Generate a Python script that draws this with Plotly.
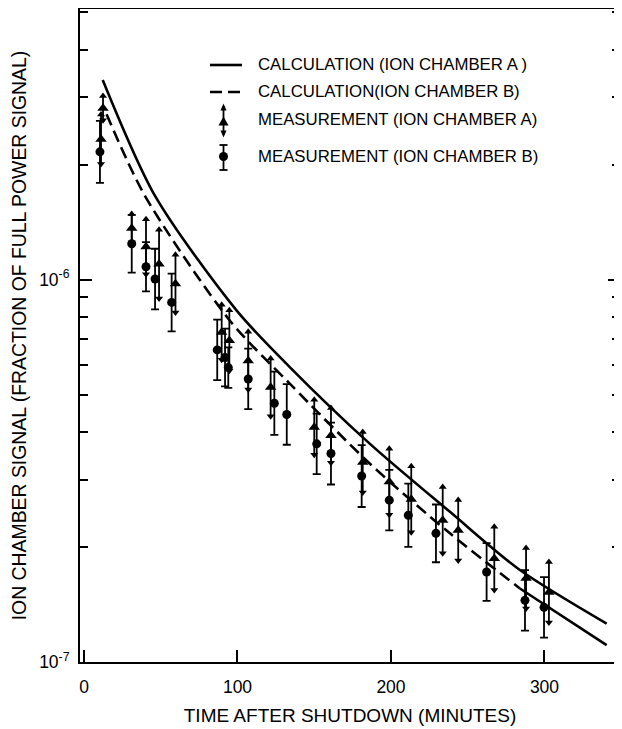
import plotly.graph_objects as go

# ---------------- data ----------------
calc_a_time = [12.2, 46.3, 99.5, 134.2, 186.3, 238.4, 284.0, 340.5]
calc_a_signal = [3.33e-6, 1.656e-6, 8.30e-7, 5.90e-7, 3.72e-7, 2.47e-7, 1.74e-7, 1.26e-7]

calc_b_time = [14.7, 39.7, 95.1, 134.2, 186.3, 238.4, 284.0, 340.5]
calc_b_signal = [2.71e-6, 1.657e-6, 7.81e-7, 5.34e-7, 3.30e-7, 2.17e-7, 1.557e-7, 1.107e-7]

meas_a_time = [12.4, 11.1, 31.1, 40.4, 48.9, 59.6, 89.7, 94.7, 107.0, 121.6,
               150.0, 160.9, 181.6, 198.9, 213.2, 233.7, 243.8, 267.3, 288.0, 302.9]
meas_a_signal = [2.81e-6, 2.33e-6, 1.363e-6, 1.22e-6, 1.099e-6, 9.76e-7, 7.29e-7, 6.93e-7, 6.14e-7, 5.23e-7,
                 4.11e-7, 3.915e-7, 3.33e-7, 2.96e-7, 2.665e-7, 2.35e-7, 2.21e-7, 1.866e-7, 1.657e-7, 1.523e-7]
meas_a_err = [0.075, 0.16, 0.09, 0.18, 0.23, 0.19, 0.18, 0.20, 0.19, 0.19,
              0.18, 0.18, 0.20, 0.22, 0.22, 0.22, 0.20, 0.21, 0.20, 0.20]

meas_b_time = [10.4, 31.1, 40.4, 46.3, 57.1, 86.8, 91.9, 94.0, 107.0, 124.0,
               132.1, 151.6, 160.9, 180.9, 198.9, 211.3, 229.3, 262.3, 287.3, 299.7]
meas_b_signal = [2.16e-6, 1.242e-6, 1.081e-6, 1.004e-6, 8.72e-7, 6.55e-7, 6.26e-7, 5.89e-7, 5.50e-7, 4.75e-7,
                 4.44e-7, 3.72e-7, 3.51e-7, 3.065e-7, 2.65e-7, 2.42e-7, 2.17e-7, 1.72e-7, 1.45e-7, 1.39e-7]
meas_b_err = [0.205, 0.19, 0.16, 0.20, 0.19, 0.20, 0.19, 0.13, 0.20, 0.21,
              0.20, 0.20, 0.205, 0.205, 0.20, 0.21, 0.19, 0.19, 0.20, 0.20]

x_tick_vals = [0, 100, 200, 300]
y_major_vals = [1e-7, 1e-6]
y_major_text = ["10<sup>-7</sup>", "10<sup>-6</sup>"]
y_minor_vals = [2e-7, 3e-7, 4e-7, 5e-7, 6e-7, 7e-7, 8e-7, 9e-7, 2e-6, 3e-6, 4e-6, 5e-6]

legend_labels = ["CALCULATION (ION CHAMBER A )", "CALCULATION(ION CHAMBER B)",
                 "MEASUREMENT (ION CHAMBER A)", "MEASUREMENT (ION CHAMBER B)"]

# ---------------- figure ----------------
OFF = 8                      # default page margin of the html body
W, H = 622 - OFF, 729 - OFF
ML, MR, MT, MB = 72, 2, 1, 67
PW, PH = W - ML - MR, H - MT - MB
FONT = "Liberation Sans, Arial, Helvetica, sans-serif"
BLACK = "black"
B_DASH_END = 284.0  # dashes give way to a continuous stroke near the end, as in the original

fig = go.Figure()

# calculation curves
fig.add_trace(go.Scatter(x=calc_a_time, y=calc_a_signal, mode="lines",
                         line=dict(color=BLACK, width=2.6, shape="spline", smoothing=0.8),
                         hoverinfo="skip"))
b_dash_x = [t for t in calc_b_time if t <= B_DASH_END]
b_dash_y = [v for t, v in zip(calc_b_time, calc_b_signal) if t <= B_DASH_END]
b_sol_x = [t for t in calc_b_time if t >= B_DASH_END]
b_sol_y = [v for t, v in zip(calc_b_time, calc_b_signal) if t >= B_DASH_END]
fig.add_trace(go.Scatter(x=b_dash_x, y=b_dash_y, mode="lines",
                         line=dict(color=BLACK, width=2.6, dash="12px,6px", shape="spline", smoothing=0.8),
                         hoverinfo="skip"))
fig.add_trace(go.Scatter(x=b_sol_x, y=b_sol_y, mode="lines",
                         line=dict(color=BLACK, width=2.6), hoverinfo="skip"))

# measurement A : triangles with arrow-headed error bars
a_up = [v * e for v, e in zip(meas_a_signal, meas_a_err)]
a_dn = [v * e / (1 + e) for v, e in zip(meas_a_signal, meas_a_err)]
fig.add_trace(go.Scatter(x=meas_a_time, y=meas_a_signal, mode="markers",
                         marker=dict(symbol="triangle-up", size=10, color=BLACK),
                         error_y=dict(type="data", array=a_up, arrayminus=a_dn, symmetric=False,
                                      color=BLACK, thickness=1.8, width=0)))
fig.add_trace(go.Scatter(x=meas_a_time, y=[v * (1 + e) for v, e in zip(meas_a_signal, meas_a_err)],
                         mode="markers", marker=dict(symbol="triangle-up", size=7, color=BLACK)))
fig.add_trace(go.Scatter(x=meas_a_time, y=[v / (1 + e) for v, e in zip(meas_a_signal, meas_a_err)],
                         mode="markers", marker=dict(symbol="triangle-down", size=7, color=BLACK)))

# measurement B : circles with capped error bars
b_up = [v * e for v, e in zip(meas_b_signal, meas_b_err)]
b_dn = [v * e / (1 + e) for v, e in zip(meas_b_signal, meas_b_err)]
fig.add_trace(go.Scatter(x=meas_b_time, y=meas_b_signal, mode="markers",
                         marker=dict(symbol="circle", size=9, color=BLACK),
                         error_y=dict(type="data", array=b_up, arrayminus=b_dn, symmetric=False,
                                      color=BLACK, thickness=1.8, width=4)))


# ---------------- hand-drawn legend (paper coords, given in page pixels) ----------------
def px(xp):
    return (xp - OFF - ML) / PW


def py(yp):
    return (OFF + MT + PH - yp) / PH


shapes = []
annotations = []
shapes.append(dict(type="line", xref="paper", yref="paper", x0=px(210), x1=px(242), y0=py(65), y1=py(65),
                   line=dict(color=BLACK, width=2.6)))
shapes.append(dict(type="line", xref="paper", yref="paper", x0=px(210), x1=px(243), y0=py(92), y1=py(92),
                   line=dict(color=BLACK, width=2.6, dash="12px,6px")))


def tri(cx, cy, w, h, up=True):
    if up:
        return (f"M {px(cx - w / 2)} {py(cy + h / 2)} L {px(cx + w / 2)} {py(cy + h / 2)} "
                f"L {px(cx)} {py(cy - h / 2)} Z")
    return (f"M {px(cx - w / 2)} {py(cy - h / 2)} L {px(cx + w / 2)} {py(cy - h / 2)} "
            f"L {px(cx)} {py(cy + h / 2)} Z")


# legend A symbol
shapes.append(dict(type="line", xref="paper", yref="paper", x0=px(223.5), x1=px(223.5), y0=py(106), y1=py(135),
                   line=dict(color=BLACK, width=1.8)))
shapes.append(dict(type="path", xref="paper", yref="paper", path=tri(223.5, 121, 10, 9),
                   fillcolor=BLACK, line=dict(color=BLACK, width=0)))
shapes.append(dict(type="path", xref="paper", yref="paper", path=tri(223.5, 107, 6, 7, True),
                   fillcolor=BLACK, line=dict(color=BLACK, width=0)))
shapes.append(dict(type="path", xref="paper", yref="paper", path=tri(223.5, 134, 6, 7, False),
                   fillcolor=BLACK, line=dict(color=BLACK, width=0)))
# legend B symbol
shapes.append(dict(type="line", xref="paper", yref="paper", x0=px(223.5), x1=px(223.5), y0=py(145), y1=py(170),
                   line=dict(color=BLACK, width=1.8)))
for yy in (145, 170):
    shapes.append(dict(type="line", xref="paper", yref="paper", x0=px(219.5), x1=px(227.5), y0=py(yy), y1=py(yy),
                       line=dict(color=BLACK, width=1.8)))
shapes.append(dict(type="circle", xref="paper", yref="paper", x0=px(219), x1=px(228), y0=py(152), y1=py(161),
                   fillcolor=BLACK, line=dict(color=BLACK, width=0)))

for lab, ly in zip(legend_labels, [65, 92, 120, 156]):
    annotations.append(dict(text=lab, xref="paper", yref="paper", x=px(256), y=py(ly),
                            xanchor="left", yanchor="middle", showarrow=False,
                            font=dict(family=FONT, size=16.8, color=BLACK)))

fig.update_layout(
    width=W, height=H,
    margin=dict(l=ML, r=MR, t=MT, b=MB, autoexpand=False),
    paper_bgcolor="white", plot_bgcolor="white",
    showlegend=False,
    font=dict(family=FONT, color=BLACK),
    shapes=shapes, annotations=annotations,
    xaxis=dict(
        range=[-2.6, 349.2], tickmode="array", tickvals=x_tick_vals,
        ticks="inside", ticklen=12, tickwidth=1.5, tickcolor=BLACK,
        showline=True, linewidth=2, linecolor=BLACK, mirror=True,
        showgrid=False, zeroline=False, automargin=False,
        tickfont=dict(size=17.5, family=FONT, color=BLACK),
        ticklabelstandoff=8,
        title=dict(text="TIME AFTER SHUTDOWN (MINUTES)", font=dict(size=19, family=FONT, color=BLACK),
                   standoff=13),
    ),
    yaxis=dict(
        type="log", range=[-7, -5.292], tickmode="array", tickvals=y_major_vals, ticktext=y_major_text,
        ticks="inside", ticklen=12, tickwidth=1.5, tickcolor=BLACK,
        minor=dict(tickmode="array", tickvals=y_minor_vals, ticks="inside", ticklen=8,
                   tickwidth=1.5, tickcolor=BLACK, showgrid=False),
        showline=True, linewidth=2, linecolor=BLACK, mirror="ticks",
        showgrid=False, zeroline=False, automargin=False,
        tickfont=dict(size=17.5, family=FONT, color=BLACK),
        ticklabelstandoff=5,
        title=dict(text="ION CHAMBER SIGNAL (FRACTION OF FULL POWER SIGNAL)",
                   font=dict(size=19.4, family=FONT, color=BLACK), standoff=14),
    ),
)

fig.write_html("out.html")
